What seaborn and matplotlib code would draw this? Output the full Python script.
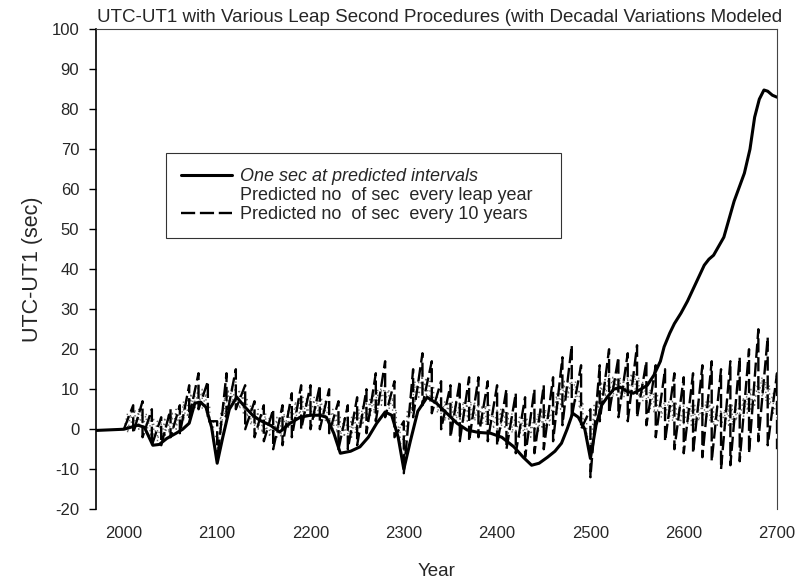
import numpy as np
import pandas as pd
import matplotlib
matplotlib.use("Agg")
import matplotlib.pyplot as plt
import seaborn as sns

# ---------------- data ----------------
solid_years = [1970, 1980, 1990, 2000, 2003, 2009, 2015, 2022, 2031, 2038, 2046, 2056, 2063,
               2070, 2076, 2082, 2088, 2094, 2100, 2106, 2113, 2121, 2130, 2138, 2146,
               2157, 2167, 2178, 2189, 2200, 2210, 2217, 2225, 2232, 2243, 2253, 2262,
               2271, 2280, 2287, 2294, 2300, 2307, 2315, 2325, 2335, 2346, 2357, 2368,
               2380, 2393, 2405, 2418, 2428, 2437, 2445, 2454, 2462, 2469, 2475, 2481,
               2487, 2494, 2500, 2506, 2512, 2518, 2525, 2532, 2539, 2546, 2554, 2561,
               2568, 2575, 2579, 2585, 2590, 2597, 2604, 2613, 2622, 2627, 2632, 2643, 2654,
               2665, 2671, 2676, 2681, 2686, 2690, 2695, 2700]
solid_values = [-0.3, -0.2, -0.1, 0.0, 0.2, 0.6, 1.0, 0.5, -4.0, -3.8, -2.3, -1.0, 0.0,
                1.5, 6.5, 6.8, 5.5, 0.5, -8.5, -2.0, 5.0, 8.0, 5.5, 3.5, 2.2,
                1.0, -0.7, 1.5, 3.0, 3.5, 3.5, 3.0, -1.0, -6.0, -5.5, -4.4, -2.0,
                1.5, 4.3, 3.5, -2.0, -10.0, -3.0, 4.5, 8.0, 6.5, 4.0, 1.5, -0.2,
                -0.8, -1.0, -2.0, -4.4, -7.0, -9.0, -8.5, -7.0, -5.5, -3.5, 0.0, 4.0,
                3.0, 0.0, -7.3, 1.0, 6.0, 8.0, 10.0, 10.5, 9.5, 9.0, 10.0, 11.0,
                13.5, 17.0, 20.6, 24.0, 26.4, 29.0, 32.0, 36.5, 41.0, 42.5, 43.5, 48.0, 57.0,
                64.0, 70.0, 78.0, 82.5, 84.8, 84.5, 83.5, 83.0]

# dashed: one adjustment each decade (value just before / just after the step)
dash_years = list(range(2010, 2701, 10))
dash_before = [6, 7, 5, 3, 5, 6, 11, 14, 12, 2,
               14, 15, 11, 7, 6, 5, 6, 9, 11, 11,
               11, 10, 7, 6, 8, 10, 14, 17, 12, 2,
               15, 19, 17, 12, 11, 12, 13, 13, 12, 11,
               10, 9, 8, 10, 11, 13, 18, 21, 16, 5,
               16, 20, 18, 19, 21, 17, 16, 15, 14, 13,
               14, 16, 17, 15, 17, 18, 20, 25, 23, 14]
dash_after = [-1, -2, -4, -4, -2, -1, 3, 5, 2, -8,
              3, 5, 0, -2, -3, -5, -4, -2, 0, 0,
              0, -1, -5, -5, -4, -1, 2, 3, -2, -11,
              3, 6, 4, 0, -2, -3, -3, -2, -3, -4,
              -5, -6, -7, -6, -5, -3, 1, 3, 0, -12,
              2, 4, 3, 2, 3, 1, -2, -3, -5, -6,
              -6, -7, -8, -10, -9, -8, -6, -3, -4, -5]

# dotted: adjustment every leap year
dot_years = list(range(2004, 2701, 4))
dot_before = [4, 5, 5, 5, 5, 4, 3, 3, 2, 2,
              3, 4, 4, 5, 5, 7, 8, 9, 10, 11,
              10, 9, 6, 2, -1, 4, 8, 10, 11, 12,
              10, 9, 8, 6, 5, 5, 4, 4, 3, 3,
              3, 3, 4, 5, 6, 7, 8, 8, 8, 8,
              8, 8, 8, 7, 7, 5, 4, 3, 3, 3,
              3, 4, 5, 6, 7, 8, 9, 10, 11, 12,
              10, 8, 5, 1, -2, 5, 9, 12, 13, 14,
              13, 12, 11, 9, 8, 7, 7, 7, 7, 7,
              7, 7, 7, 7, 7, 6, 6, 6, 5, 5,
              5, 5, 4, 4, 4, 3, 3, 3, 3, 4,
              4, 5, 5, 6, 7, 9, 10, 12, 13, 14,
              12, 10, 7, 3, -1, 6, 10, 12, 13, 14,
              13, 13, 13, 13, 13, 14, 14, 13, 12, 11,
              10, 9, 9, 8, 8, 7, 7, 7, 6, 6,
              6, 6, 6, 7, 7, 7, 7, 6, 6, 5,
              5, 6, 6, 7, 7, 8, 9, 10, 11, 13,
              13, 12, 11, 9, 7]
dot_after = [-1, 0, 0, 0, 0, -1, -2, -2, -3, -3,
             -2, -1, -1, 0, 0, 2, 3, 4, 5, 6,
             5, 4, 1, -3, -6, -1, 3, 5, 6, 7,
             5, 4, 3, 1, 0, 0, -1, -1, -2, -2,
             -2, -2, -1, 0, 1, 2, 3, 3, 3, 3,
             3, 3, 3, 2, 2, 0, -1, -2, -2, -2,
             -2, -1, 0, 1, 2, 3, 4, 5, 6, 7,
             5, 3, 0, -4, -7, 0, 4, 7, 8, 9,
             8, 7, 6, 4, 3, 2, 2, 2, 2, 2,
             2, 2, 2, 2, 2, 1, 1, 1, 0, 0,
             0, 0, -1, -1, -1, -2, -2, -2, -2, -1,
             -1, 0, 0, 1, 2, 4, 5, 7, 8, 9,
             7, 5, 2, -2, -6, 1, 5, 7, 8, 9,
             8, 8, 8, 8, 8, 9, 9, 8, 7, 6,
             5, 4, 4, 3, 3, 2, 2, 2, 1, 1,
             1, 1, 1, 2, 2, 2, 2, 1, 1, 0,
             0, 1, 1, 2, 2, 3, 4, 5, 6, 8,
             8, 7, 6, 4, 2]

labels = ["One sec at predicted intervals",
          "Predicted no  of sec  every leap year",
          "Predicted no  of sec  every 10 years"]
title = "UTC-UT1 with Various Leap Second Procedures (with Decadal Variations Modeled"
y_ticks = list(range(-20, 101, 10))
x_ticks = list(range(2000, 2701, 100))


def sawtooth(years, before, after, start_year=2000, start_val=0.0):
    xs, ys = [start_year], [start_val]
    for t, b, a in zip(years, before, after):
        xs += [t, t]
        ys += [b, a]
    return pd.DataFrame({"Year": xs, "val": ys})


df_solid = pd.DataFrame({"Year": solid_years, "val": solid_values})
df_dash = sawtooth(dash_years, dash_before, dash_after)
df_dot = sawtooth(dot_years, dot_before, dot_after)

# ---------------- plotting ----------------
sns.set_theme(style="white")
plt.rcParams["font.family"] = ["Liberation Sans", "DejaVu Sans"]
plt.rcParams["axes.unicode_minus"] = False

fig = plt.figure(figsize=(7.99, 5.84), dpi=100)
ax = fig.add_axes([0.120, 0.128, 0.8525, 0.822])

sns.lineplot(data=df_dot, x="Year", y="val", ax=ax, estimator=None, sort=False,
             color="#666666", linewidth=1.0, linestyle=(0, (1, 2.5)), label=labels[1])
sns.lineplot(data=df_dash, x="Year", y="val", ax=ax, estimator=None, sort=False,
             color="black", linewidth=1.7, linestyle=(0, (6, 2)), label=labels[2])
sns.lineplot(data=df_solid, x="Year", y="val", ax=ax, estimator=None, sort=False,
             color="black", linewidth=2.2, label=labels[0])

ax.set_xlim(1970, 2700)
ax.set_ylim(-20, 100)
ax.set_yticks(y_ticks)
ax.set_xticks(x_ticks)
ax.tick_params(axis="y", direction="out", length=5, width=1, color="black",
               labelsize=12, pad=7, left=True)
ax.tick_params(axis="x", length=0, labelsize=12, pad=12)

ax.spines["left"].set_color("black")
ax.spines["left"].set_linewidth(1.2)
for s in ["top", "right"]:
    ax.spines[s].set_color("#444444")
    ax.spines[s].set_linewidth(0.8)
ax.spines["bottom"].set_visible(False)

ax.set_xlabel("Year", fontsize=13.5, labelpad=16)
ax.set_ylabel("UTC-UT1 (sec)", fontsize=15.5, labelpad=6)
ax.set_title(title, fontsize=13.5, pad=5, x=0.505)

# legend
handles, labs = ax.get_legend_handles_labels()
order = [labs.index(l) for l in labels]
hs = [handles[i] for i in order]
leg = ax.legend(hs, labels, loc="upper left",
                bbox_to_anchor=(0.103, 0.3, 0.580, 0.442), mode="expand",
                fontsize=13, frameon=True, fancybox=False, edgecolor="black",
                handlelength=2.8, handletextpad=0.45, borderpad=0.85,
                labelspacing=0.1, borderaxespad=0)
leg.get_frame().set_linewidth(0.8)
leg.get_texts()[0].set_style("italic")
leg.legend_handles[1].set_visible(False)

fig.savefig("out.png", dpi=100)
